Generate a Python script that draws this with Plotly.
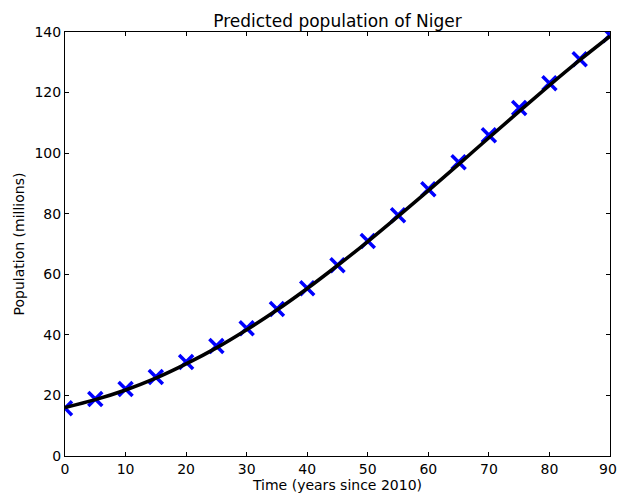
import plotly.graph_objects as go

years = [0, 5, 10, 15, 20, 25, 30, 35, 40, 45, 50, 55, 60, 65, 70, 75, 80, 85, 90]
population = [15.8, 18.8, 22.1, 26.1, 31.0, 36.3, 42.2, 48.5, 55.4, 63.0, 71.0, 79.5,
              88.1, 97.0, 105.9, 114.9, 123.1, 131.0, 139.0]
fit_population = [16.0, 18.6, 21.8, 25.7, 30.4, 35.7, 41.7, 48.2, 55.3, 62.9, 70.8, 79.1,
                  87.6, 96.3, 105.1, 113.8, 122.4, 130.7, 138.6]
x_ticks = list(range(0, 91, 10))
y_ticks = list(range(0, 141, 20))

fig = go.Figure()
fig.add_trace(go.Scatter(
    x=years, y=population, mode="markers",
    marker=dict(symbol="x-thin", size=14, line=dict(color="#0000ff", width=3.5)),
    showlegend=False, cliponaxis=True))
fig.add_trace(go.Scatter(
    x=years, y=fit_population, mode="lines", line_shape="spline",
    line=dict(color="black", width=3.5), showlegend=False, cliponaxis=True))

tick_font = dict(family="DejaVu Sans", size=14, color="black")
axis_common = dict(showline=True, linecolor="black", linewidth=1, mirror="ticks",
                   ticks="inside", ticklen=4, tickcolor="black", showgrid=False,
                   zeroline=False, automargin=False, tickfont=tick_font)

fig.update_layout(
    width=617, height=494,
    margin=dict(l=65, r=7, t=32, b=38),
    paper_bgcolor="white", plot_bgcolor="white",
    title=dict(text="Predicted population of Niger", x=0.5, xref="paper", y=0.958, yanchor="middle",
               font=dict(family="DejaVu Sans", size=17, color="black")),
    xaxis=dict(range=[0, 90], tickvals=x_ticks[:-1],
               title=dict(text="Time (years since 2010)", standoff=4,
                          font=dict(family="DejaVu Sans", size=14, color="black")),
               **axis_common),
    yaxis=dict(range=[0, 140], tickvals=y_ticks,
               title=dict(text="Population (millions)", standoff=6,
                          font=dict(family="DejaVu Sans", size=14, color="black")),
               **axis_common),
)
# last x tick label (at the right frame edge)
fig.add_annotation(x=x_ticks[-1], y=0, xref="x", yref="y", text=str(x_ticks[-1]),
                   showarrow=False, xanchor="center", yanchor="top", yshift=-3, xshift=-2,
                   font=tick_font)
fig.write_html("out.html")
